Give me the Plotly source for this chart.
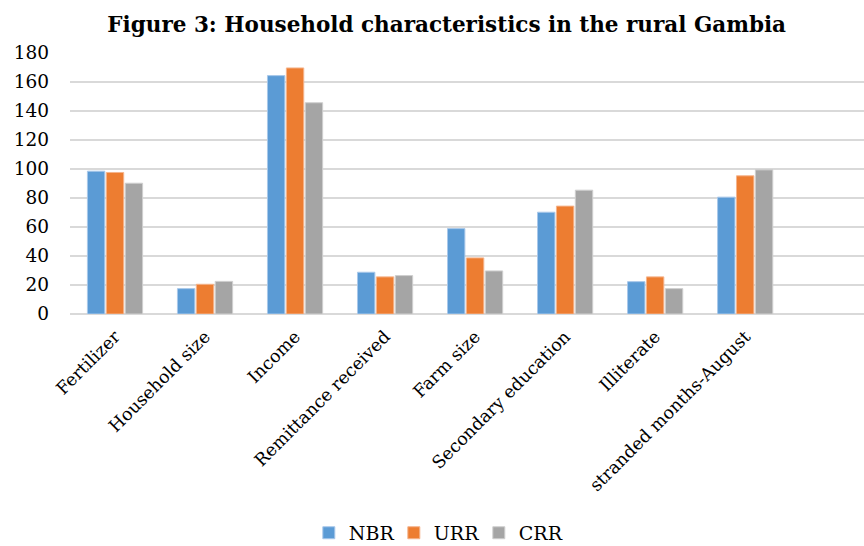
import plotly.graph_objects as go

categories = ["Fertilizer", "Household size", "Income", "Remittance received",
              "Farm size", "Secondary education", "Illiterate", "stranded months-August"]
nbr = [98.5, 17.5, 164.4, 28.8, 58.9, 70.2, 22.3, 80.6]
urr = [97.6, 20.5, 169.7, 25.6, 38.7, 74.4, 25.6, 95.3]
crr = [90.2, 22.5, 145.7, 26.5, 29.7, 85.4, 17.5, 99.4]
series_names = ["NBR", "URR", "CRR"]
colors = ["#5b9bd5", "#ed7d31", "#a5a5a5"]
edge_colors = ["#a9c8ea", "#f5b48c", "#cfcfcf"]

font_family = "DejaVu Serif"

fig = go.Figure()
for name, vals, c, ec in zip(series_names, [nbr, urr, crr], colors, edge_colors):
    fig.add_trace(go.Bar(x=categories, y=vals, name=name,
                         marker=dict(color=c, line=dict(color=ec, width=1))))

fig.update_layout(
    width=864, height=546,
    barmode="group", bargap=0.37, bargroupgap=0.08,
    plot_bgcolor="white", paper_bgcolor="white",
    margin=dict(l=70, r=0, t=53, b=232),
    title=dict(text="<b>Figure 3: Household characteristics in the rural Gambia</b>",
               x=0.517, xref="container", xanchor="center",
               y=0.955, yref="container", yanchor="middle",
               font=dict(family=font_family, size=21.5, color="#000000")),
    font=dict(family=font_family, size=17, color="#000000"),
    legend=dict(orientation="h", x=0.505, xref="container", xanchor="center",
                y=0.024, yref="container", yanchor="middle",
                font=dict(family=font_family, size=19, color="#000000"),
                itemwidth=30, entrywidth=40, traceorder="normal"),
    xaxis=dict(type="category", categoryorder="array", categoryarray=categories,
               range=[-0.5, 8.32], tickangle=-45, showgrid=False,
               showline=False, ticks="", ticklabelstandoff=8,
               tickfont=dict(family=font_family, size=17.5, color="#000000")),
    yaxis=dict(range=[0, 180], dtick=20, showgrid=True, gridcolor="#d9d9d9",
               gridwidth=1.5, zeroline=True, zerolinecolor="#d9d9d9",
               zerolinewidth=1.5, showline=False, ticks="",
               ticklabelstandoff=20,
               tickfont=dict(family=font_family, size=18.5, color="#000000")),
)

fig.write_html("out.html")
